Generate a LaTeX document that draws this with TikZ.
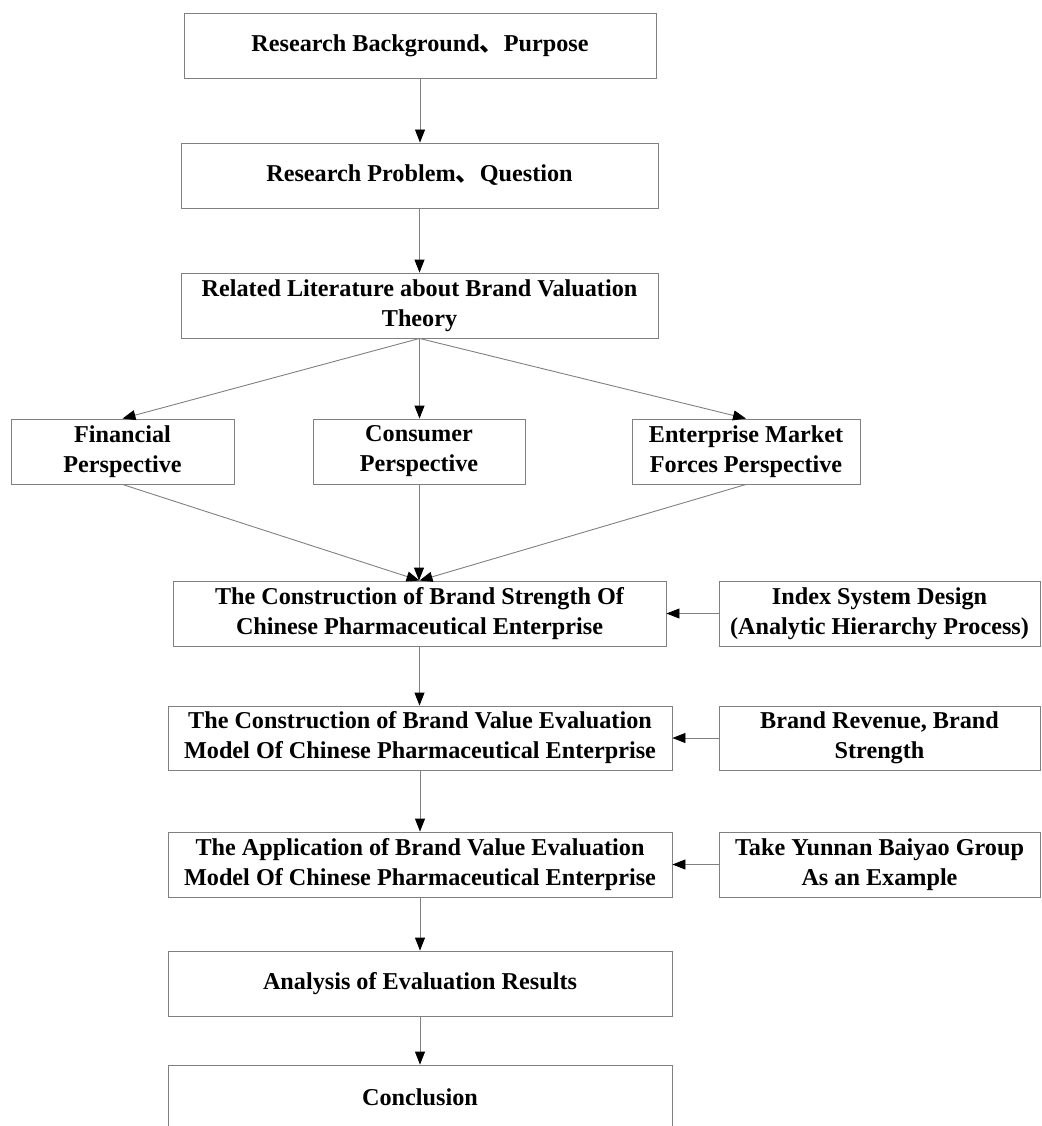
\documentclass[tikz,border=0pt]{standalone}
\usepackage{fontspec}
\setmainfont{Liberation Serif}
\newfontfamily\cjk{Noto Sans CJK SC}
\usetikzlibrary{arrows.meta}
\begin{document}
\begin{tikzpicture}[x=1pt,y=-1pt,
  box/.style={draw=black!50, line width=0.9pt, rectangle, align=center,
    font=\fontsize{24.2}{30}\selectfont\bfseries, inner sep=0pt, minimum height=65pt},
  link/.style={draw=black!50, line width=0.9pt,
    -{Triangle[length=13pt,width=10pt,fill=black,color=black]}}
]
\useasboundingbox (0,0) rectangle (1041,1126);
\begin{scope}
\clip (0,0) rectangle (1041,1126);

% main column
\node[box, minimum width=472pt] (bg)   at (420,45.5)  {Research Background{\cjk 、}Purpose};
\node[box, minimum width=477pt] (prob) at (419.5,175.5) {Research Problem{\cjk 、}Question};
\node[box, minimum width=477pt] (lit)  at (419.5,305.5) {Related Literature about Brand Valuation\\Theory};

% perspectives
\node[box, minimum width=223pt] (fin) at (122.5,451.5) {Financial\\Perspective};
\node[box, minimum width=212pt] (con) at (419,451.5)   {Consumer\\Perspective};
\node[box, minimum width=228pt] (ent) at (746,451.5)   {Enterprise Market\\Forces Perspective};

% model construction and application
\node[box, minimum width=493pt] (str)  at (419.5,613.5) {The Construction of Brand Strength Of\\Chinese Pharmaceutical Enterprise};
\node[box, minimum width=504pt, minimum height=64pt] (mod) at (420,738) {The Construction of Brand Value Evaluation\\Model Of Chinese Pharmaceutical Enterprise};
\node[box, minimum width=504pt] (app)  at (420,864.5) {The Application of Brand Value Evaluation\\Model Of Chinese Pharmaceutical Enterprise};
\node[box, minimum width=504pt] (ana)  at (420,983.5) {Analysis of Evaluation Results};
\node[box, minimum width=504pt] (conc) at (420,1097.5) {Conclusion};

% side inputs
\node[box, minimum width=321pt] (idx) at (879.5,613.5) {Index System Design\\(Analytic Hierarchy Process)};
\node[box, minimum width=321pt, minimum height=64pt] (rev) at (879.5,738) {Brand Revenue, Brand\\Strength};
\node[box, minimum width=321pt] (yun) at (879.5,864.5) {Take Yunnan Baiyao Group\\As an Example};

% connectors
\draw[link] (bg.south) -- (bg.south |- prob.north);
\draw[link] (prob.south) -- (prob.south |- lit.north);
\draw[link] (lit.south) -- (fin.north);
\draw[link] (lit.south) -- (lit.south |- con.north);
\draw[link] (lit.south) -- (ent.north);
\draw[link] (fin.south) -- (str.north);
\draw[link] (con.south) -- (con.south |- str.north);
\draw[link] (ent.south) -- (str.north);
\draw[link] (idx.west) -- (str.east);
\draw[link] (str.south) -- (str.south |- mod.north);
\draw[link] (rev.west) -- (mod.east);
\draw[link] (mod.south) -- (mod.south |- app.north);
\draw[link] (yun.west) -- (app.east);
\draw[link] (app.south) -- (app.south |- ana.north);
\draw[link] (ana.south) -- (ana.south |- conc.north);
\end{scope}
\end{tikzpicture}
\end{document}
